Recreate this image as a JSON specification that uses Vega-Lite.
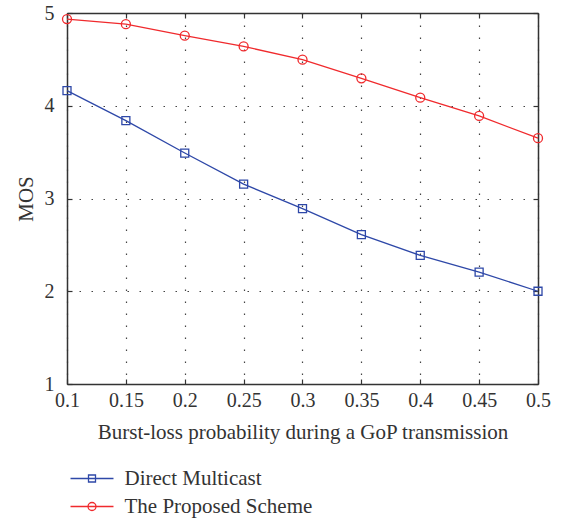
{
  "$schema": "https://vega.github.io/schema/vega-lite/v6.json",
  "width": 471,
  "height": 371,
  "autosize": "none",
  "padding": {"left": 67, "top": 13, "right": 26, "bottom": 138},
  "config": {
    "font": "Liberation Serif",
    "view": {"stroke": null},
    "axis": {"domainColor": "#333333", "domainWidth": 1.5, "tickColor": "#333333", "tickWidth": 1.2, "labelColor": "#333333", "titleColor": "#333333", "labelFontSize": 20, "titleFontSize": 21, "titleFontWeight": "normal", "labelFlush": false}
  },
  "data": {
    "values": [
      {"p": 0.1, "mos": 4.163, "series": "Direct Multicast"},
      {"p": 0.15, "mos": 3.84, "series": "Direct Multicast"},
      {"p": 0.2, "mos": 3.49, "series": "Direct Multicast"},
      {"p": 0.25, "mos": 3.155, "series": "Direct Multicast"},
      {"p": 0.3, "mos": 2.89, "series": "Direct Multicast"},
      {"p": 0.35, "mos": 2.61, "series": "Direct Multicast"},
      {"p": 0.4, "mos": 2.386, "series": "Direct Multicast"},
      {"p": 0.45, "mos": 2.206, "series": "Direct Multicast"},
      {"p": 0.5, "mos": 2.0, "series": "Direct Multicast"},
      {"p": 0.1, "mos": 4.935, "series": "The Proposed Scheme"},
      {"p": 0.15, "mos": 4.88, "series": "The Proposed Scheme"},
      {"p": 0.2, "mos": 4.756, "series": "The Proposed Scheme"},
      {"p": 0.25, "mos": 4.64, "series": "The Proposed Scheme"},
      {"p": 0.3, "mos": 4.497, "series": "The Proposed Scheme"},
      {"p": 0.35, "mos": 4.296, "series": "The Proposed Scheme"},
      {"p": 0.4, "mos": 4.087, "series": "The Proposed Scheme"},
      {"p": 0.45, "mos": 3.89, "series": "The Proposed Scheme"},
      {"p": 0.5, "mos": 3.65, "series": "The Proposed Scheme"}
    ]
  },
  "layer": [
    {
      "mark": {"type": "line", "strokeWidth": 1.3},
      "encoding": {
        "x": {"field": "p", "type": "quantitative", "scale": {"domain": [0.1, 0.5], "nice": false, "zero": false},
          "axis": {"orient": "bottom", "values": [0.1, 0.15, 0.2, 0.25, 0.3, 0.35, 0.4, 0.45, 0.5], "format": "~g", "tickSize": -5, "labelPadding": 11, "title": "Burst-loss probability during a GoP transmission", "titlePadding": 11, "grid": true, "gridColor": "#444444", "gridDash": [1.5, 10.5], "gridWidth": 1.2}},
        "y": {"field": "mos", "type": "quantitative", "scale": {"domain": [1, 5], "nice": false, "zero": false},
          "axis": {"orient": "left", "values": [1, 2, 3, 4, 5], "format": "d", "tickSize": -5, "labelPadding": 18, "title": "MOS", "titlePadding": 8, "grid": true, "gridColor": "#444444", "gridDash": [1.5, 10.5], "gridWidth": 1.2}},
        "color": {"field": "series", "type": "nominal", "scale": {"domain": ["Direct Multicast", "The Proposed Scheme"], "range": ["#2e48a8", "#f02a2d"]},
          "legend": {"orient": "none", "legendX": 14.5, "legendY": 455, "title": null, "direction": "vertical", "symbolSize": 196, "symbolStrokeWidth": 1.3, "symbolFillColor": "transparent", "labelFontSize": 21, "labelLimit": 400, "labelColor": "#333333", "labelOffset": 22, "rowPadding": 6,
            "encode": {"symbols": {
              "enter": {"shape": {"signal": "datum.value === 'Direct Multicast' ? 'M-3.07,0H3.07M-0.5,-0.5H0.5V0.5H-0.5Z' : 'M-3.07,0H3.07M0.57,0A0.57,0.57,0,1,1,-0.57,0A0.57,0.57,0,1,1,0.57,0Z'"}},
              "update": {"shape": {"signal": "datum.value === 'Direct Multicast' ? 'M-3.07,0H3.07M-0.5,-0.5H0.5V0.5H-0.5Z' : 'M-3.07,0H3.07M0.57,0A0.57,0.57,0,1,1,-0.57,0A0.57,0.57,0,1,1,0.57,0Z'"}, "fill": {"value": "transparent"}}}}}}
      }
    },
    {
      "transform": [{"filter": "datum.series === 'Direct Multicast'"}],
      "mark": {"type": "point", "shape": "square", "filled": false, "strokeWidth": 1.3, "size": 64, "opacity": 1},
      "encoding": {
        "x": {"field": "p", "type": "quantitative", "axis": {"orient": "top", "values": [0.1, 0.15, 0.2, 0.25, 0.3, 0.35, 0.4, 0.45, 0.5], "labels": false, "tickSize": -5, "title": null, "grid": false}},
        "y": {"field": "mos", "type": "quantitative", "axis": {"orient": "right", "values": [1, 2, 3, 4, 5], "labels": false, "tickSize": -5, "title": null, "grid": false}},
        "color": {"field": "series", "type": "nominal"}
      }
    },
    {
      "transform": [{"filter": "datum.series === 'The Proposed Scheme'"}],
      "mark": {"type": "point", "shape": "circle", "filled": false, "strokeWidth": 1.3, "size": 81, "opacity": 1},
      "encoding": {
        "x": {"field": "p", "type": "quantitative", "axis": null},
        "y": {"field": "mos", "type": "quantitative", "axis": null},
        "color": {"field": "series", "type": "nominal"}
      }
    }
  ],
  "resolve": {"axis": {"x": "independent", "y": "independent"}}
}
